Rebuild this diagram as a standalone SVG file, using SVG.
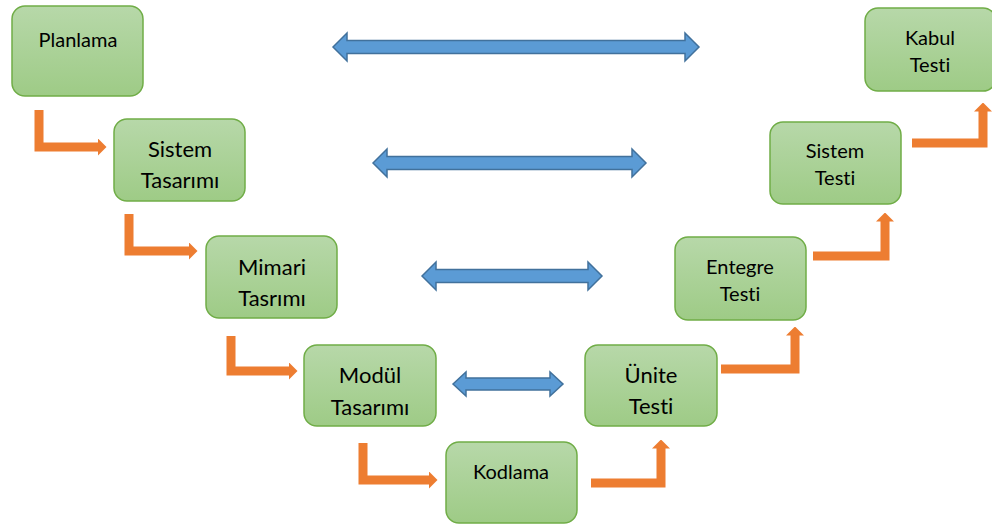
<svg xmlns="http://www.w3.org/2000/svg" width="992" height="525" viewBox="0 0 992 525">
<defs>
<linearGradient id="g" x1="0" y1="0" x2="0" y2="1">
<stop offset="0" stop-color="#b7d8a9"/>
<stop offset="1" stop-color="#9ecb86"/>
</linearGradient>
<marker id="oh" markerUnits="userSpaceOnUse" viewBox="0 0 9 18" markerWidth="9" markerHeight="18" refX="0.5" refY="9" orient="auto">
<path d="M0,0 L9,9 L0,18 Z" fill="#ed7d31"/>
</marker>
<style>
.box{fill:url(#g);stroke:#70ad47;stroke-width:1.5}
.t{font-family:Lato,"Open Sans",sans-serif;fill:#000;text-anchor:middle;font-variant-ligatures:none;font-feature-settings:"liga" 0}
.big{font-size:22px}
.sm{font-size:20px}
.o{fill:none;stroke:#ed7d31;stroke-width:9;stroke-linejoin:miter;marker-end:url(#oh)}
.b{fill:#5b9bd5;stroke:#41719c;stroke-width:1.5}
</style>
</defs>
<rect width="992" height="525" fill="#fff"/>
<g id="connectors">
<path class="o" d="M39,110 V147 H98"/>
<path class="o" d="M129,214 V251 H189"/>
<path class="o" d="M231,336 V371 H289"/>
<path class="o" d="M363,443 V480 H429"/>
<path class="o" d="M591,483 H661 V448"/>
<path class="o" d="M721,369 H795 V335"/>
<path class="o" d="M813,256 H885 V221"/>
<path class="o" d="M912,143 H983 V111"/>
<polygon class="b" points="333,47 347,33 347,40.5 685,40.5 685,33 699,47 685,61 685,53.5 347,53.5 347,61"/>
<polygon class="b" points="373,163 387,149 387,156.5 632,156.5 632,149 646,163 632,177 632,169.5 387,169.5 387,177"/>
<polygon class="b" points="422,276 436,262 436,269.5 588,269.5 588,262 602,276 588,290 588,282.5 436,282.5 436,290"/>
<polygon class="b" points="453,384 466,372 466,378 550,378 550,372 563,384 550,396 550,390 466,390 466,396"/>
</g>
<g id="planlama"><rect class="box" x="12" y="6" width="131" height="90" rx="13"/><text class="t sm" x="78" y="47">Planlama</text></g>
<g id="sistem-tasarimi"><rect class="box" x="114" y="119" width="131" height="82" rx="13"/><text class="t big" x="180" y="157">Sistem</text><text class="t big" x="180" y="188">Tasarımı</text></g>
<g id="mimari-tasrimi"><rect class="box" x="206" y="236" width="131" height="82" rx="13"/><text class="t big" x="272" y="275">Mimari</text><text class="t big" x="272" y="306">Tasrımı</text></g>
<g id="modul-tasarimi"><rect class="box" x="304" y="345" width="132" height="81" rx="13"/><text class="t big" x="370" y="383">Modül</text><text class="t big" x="370" y="415">Tasarımı</text></g>
<g id="kodlama"><rect class="box" x="446" y="442" width="131" height="81" rx="13"/><text class="t sm" x="511" y="479">Kodlama</text></g>
<g id="unite-testi"><rect class="box" x="585" y="345" width="132" height="81" rx="13"/><text class="t big" x="651" y="383">Ünite</text><text class="t big" x="651" y="414">Testi</text></g>
<g id="entegre-testi"><rect class="box" x="675" y="237" width="131" height="83" rx="13"/><text class="t sm" x="740" y="274">Entegre</text><text class="t sm" x="740" y="301">Testi</text></g>
<g id="sistem-testi"><rect class="box" x="770" y="122" width="131" height="82" rx="13"/><text class="t sm" x="835" y="158">Sistem</text><text class="t sm" x="835" y="185">Testi</text></g>
<g id="kabul-testi"><rect class="box" x="865" y="8" width="131" height="83" rx="13"/><text class="t sm" x="930" y="45">Kabul</text><text class="t sm" x="930" y="72">Testi</text></g>
</svg>
